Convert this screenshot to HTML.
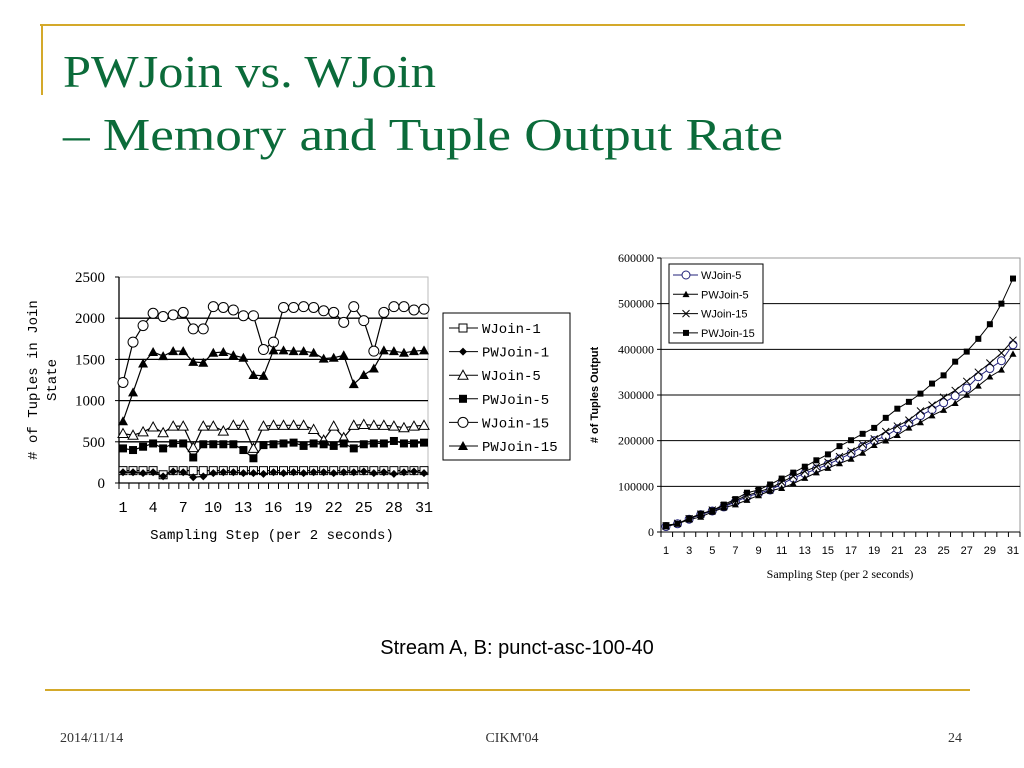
<!DOCTYPE html>
<html><head><meta charset="utf-8"><style>
html,body{margin:0;padding:0;background:#fff;}
svg{display:block}
</style></head><body>
<svg id="s" width="1024" height="768" viewBox="0 0 1024 768" xmlns="http://www.w3.org/2000/svg">
<rect width="1024" height="768" fill="#fff"/>
<line x1="40" y1="25" x2="965" y2="25" stroke="#d4a92a" stroke-width="2"/>
<line x1="42" y1="24" x2="42" y2="95" stroke="#d4a92a" stroke-width="2"/>
<text x="63" y="87" font-family="Liberation Serif, serif" font-size="46" fill="#0b6b3a" textLength="373" lengthAdjust="spacingAndGlyphs">PWJoin vs. WJoin</text>
<text x="63" y="150" font-family="Liberation Serif, serif" font-size="46" fill="#0b6b3a" textLength="720" lengthAdjust="spacingAndGlyphs">– Memory and Tuple Output Rate</text>
<line x1="45" y1="690" x2="970" y2="690" stroke="#d4a92a" stroke-width="2"/>
<text x="60" y="742" font-family="Liberation Serif, serif" font-size="14" fill="#333">2014/11/14</text>
<text x="512" y="742" font-family="Liberation Serif, serif" font-size="14" fill="#333" text-anchor="middle">CIKM'04</text>
<text x="962" y="742" font-family="Liberation Serif, serif" font-size="14" fill="#333" text-anchor="end">24</text>
<text x="517" y="654" font-family="Liberation Sans, sans-serif" font-size="20" fill="#000" text-anchor="middle">Stream A, B: punct-asc-100-40</text>
<g id="L"></g>
<g id="R"></g>
</svg>
<script>
var NS="http://www.w3.org/2000/svg";
function el(p,t,a,txt){var e=document.createElementNS(NS,t);for(var k in a)e.setAttribute(k,a[k]);if(txt!=null)e.textContent=txt;p.appendChild(e);return e;}
function mark(g,type,x,y,s){
 if(type=="sq")el(g,"rect",{x:x-s,y:y-s,width:2*s,height:2*s,fill:"#fff",stroke:"#000","stroke-width":1});
 if(type=="fsq")el(g,"rect",{x:x-s,y:y-s,width:2*s,height:2*s,fill:"#000"});
 if(type=="dia")el(g,"polygon",{points:(x)+","+(y-s)+" "+(x+s)+","+y+" "+x+","+(y+s)+" "+(x-s)+","+y,fill:"#000"});
 if(type=="tri")el(g,"polygon",{points:x+","+(y-s)+" "+(x+s)+","+(y+s*0.8)+" "+(x-s)+","+(y+s*0.8),fill:"#fff",stroke:"#000","stroke-width":1});
 if(type=="ftri")el(g,"polygon",{points:x+","+(y-s)+" "+(x+s)+","+(y+s*0.8)+" "+(x-s)+","+(y+s*0.8),fill:"#000"});
 if(type=="circ")el(g,"circle",{cx:x,cy:y,r:s,fill:"#fff",stroke:"#000","stroke-width":1});
 if(type=="bcirc")el(g,"circle",{cx:x,cy:y,r:s,fill:"#fff",stroke:"#22227a","stroke-width":1});
 if(type=="x"){el(g,"line",{x1:x-s,y1:y-s,x2:x+s,y2:y+s,stroke:"#000"});el(g,"line",{x1:x-s,y1:y+s,x2:x+s,y2:y-s,stroke:"#000"});}
}
// LEFT
var L=document.getElementById("L");
var lx0=119,lx1=428,ly0=483,ly1=277;
function LX(i){return 123+(i-1)*(424-123)/30;}
function LY(v){return ly0-(v/2500)*(ly0-ly1);}
el(L,"rect",{x:lx0,y:ly1,width:lx1-lx0,height:ly0-ly1,fill:"#fff",stroke:"#bbb"});
for(var v=500;v<=2000;v+=500)el(L,"line",{x1:lx0,y1:LY(v),x2:lx1,y2:LY(v),stroke:"#000","stroke-width":1.3});
el(L,"line",{x1:lx0,y1:ly1,x2:lx0,y2:ly0,stroke:"#000","stroke-width":1.3});
el(L,"line",{x1:lx0,y1:ly0,x2:lx1,y2:ly0,stroke:"#000","stroke-width":1.3});
for(var v=0;v<=2500;v+=500){el(L,"line",{x1:lx0-4,y1:LY(v),x2:lx0,y2:LY(v),stroke:"#000"});el(L,"text",{x:lx0-14,y:LY(v)+5,"font-family":"Liberation Serif, serif","font-size":15,"text-anchor":"end"},v);}
for(var i=0;i<=31;i++){var xx=lx0+i*(lx1-lx0)/31;el(L,"line",{x1:xx,y1:ly0,x2:xx,y2:ly0+6,stroke:"#000"});}
for(var i=1;i<=31;i+=3)el(L,"text",{x:LX(i),y:512,"font-family":"Liberation Mono, monospace","font-size":15,"text-anchor":"middle"},i);
el(L,"text",{x:272,y:539,"font-family":"Liberation Mono, monospace","font-size":14,"text-anchor":"middle"},"Sampling Step (per 2 seconds)");
el(L,"text",{transform:"translate(37,380) rotate(-90)","font-family":"Liberation Mono, monospace","font-size":14,"text-anchor":"middle"},"# of Tuples in Join");
el(L,"text",{transform:"translate(56,380) rotate(-90)","font-family":"Liberation Mono, monospace","font-size":14,"text-anchor":"middle"},"State");
var LD=[
["WJoin-1","sq",[150,150,150,150,100,150,150,150,150,150,150,150,150,150,150,150,150,150,150,150,150,150,150,150,150,150,150,150,150,150,150]],
["PWJoin-1","dia",[130,130,120,130,80,140,130,70,80,120,130,130,120,120,110,130,120,130,120,130,130,120,130,130,140,120,130,110,130,140,120]],
["WJoin-5","tri",[600,580,620,680,610,690,690,430,690,690,630,700,700,420,690,700,700,700,700,650,520,690,550,700,710,700,700,690,670,690,700]],
["PWJoin-5","fsq",[420,400,440,480,420,480,480,310,470,470,470,470,400,300,460,470,480,490,450,480,470,450,480,420,470,480,480,510,480,480,490]],
["WJoin-15","circ",[1220,1710,1910,2060,2020,2040,2070,1870,1870,2140,2130,2100,2030,2030,1620,1710,2130,2130,2140,2130,2090,2070,1950,2140,1970,1600,2070,2140,2140,2100,2110]],
["PWJoin-15","ftri",[750,1100,1450,1590,1540,1600,1600,1470,1460,1580,1590,1550,1520,1310,1300,1610,1610,1600,1600,1580,1510,1520,1550,1200,1310,1390,1610,1600,1580,1600,1610]]];
var szL={sq:4,dia:4,tri:5,fsq:4,circ:5,ftri:5};
LD.forEach(function(s){var pts=s[2].map(function(v,i){return LX(i+1)+","+LY(v)}).join(" ");
 el(L,"polyline",{points:pts,fill:"none",stroke:"#000","stroke-width":1.2});
 s[2].forEach(function(v,i){mark(L,s[1],LX(i+1),LY(v),szL[s[1]]);});});
el(L,"rect",{x:443,y:313,width:127,height:147,fill:"#fff",stroke:"#000"});
LD.forEach(function(s,k){var y=328+k*23.6;el(L,"line",{x1:449,y1:y,x2:478,y2:y,stroke:"#000"});mark(L,s[1],463,y,szL[s[1]]);
 el(L,"text",{x:482,y:y+5,"font-family":"Liberation Mono, monospace","font-size":14},s[0]);});
// RIGHT
var R=document.getElementById("R");
var rx0=661,rx1=1020,ry0=532,ry1=258;
function RX(i){return 666+(i-1)*(1013-666)/30;}
function RY(v){return ry0-(v/600000)*(ry0-ry1);}
el(R,"rect",{x:rx0,y:ry1,width:rx1-rx0,height:ry0-ry1,fill:"#fff",stroke:"#999"});
for(var v=100000;v<=500000;v+=100000)el(R,"line",{x1:rx0,y1:RY(v),x2:rx1,y2:RY(v),stroke:"#000"});
el(R,"line",{x1:rx0,y1:ry1,x2:rx0,y2:ry0,stroke:"#000"});
el(R,"line",{x1:rx0,y1:ry0,x2:rx1,y2:ry0,stroke:"#000"});
for(var v=0;v<=600000;v+=100000){el(R,"line",{x1:rx0-4,y1:RY(v),x2:rx0,y2:RY(v),stroke:"#000"});el(R,"text",{x:rx0-7,y:RY(v)+4,"font-family":"Liberation Serif, serif","font-size":12,"text-anchor":"end"},v);}
for(var i=0;i<=31;i++){var xx=rx0+i*(rx1-rx0)/31;el(R,"line",{x1:xx,y1:ry0,x2:xx,y2:ry0+5,stroke:"#000"});}
for(var i=1;i<=31;i+=2)el(R,"text",{x:RX(i),y:554,"font-family":"Liberation Sans, sans-serif","font-size":11,"text-anchor":"middle"},i);
el(R,"text",{x:840,y:578,"font-family":"Liberation Serif, serif","font-size":12,"text-anchor":"middle"},"Sampling Step (per 2 seconds)");
el(R,"text",{transform:"translate(598,395) rotate(-90)","font-family":"Liberation Sans, sans-serif","font-size":11,"font-weight":"bold","text-anchor":"middle"},"# of Tuples Output");
var K=1000;
var RD=[
["WJoin-5","bcirc","#22227a",[12,18,28,38,46,55,66,77,85,92,105,118,128,138,148,160,172,187,200,210,226,238,255,268,283,298,315,340,358,375,410]],
["PWJoin-5","ftri","#000",[12,18,27,33,44,53,60,70,80,90,96,106,118,130,140,150,160,173,190,200,212,228,240,255,267,282,300,320,340,355,390]],
["WJoin-15","x","#000",[13,19,29,39,48,57,69,80,88,96,109,122,133,143,153,165,177,192,204,220,232,245,265,278,295,310,330,350,370,392,420]],
["PWJoin-15","fsq","#000",[15,18,30,40,47,60,72,86,92,104,117,130,143,157,170,188,201,215,228,250,270,285,303,325,343,373,395,423,455,500,555]]];
var szR={bcirc:4,ftri:3.5,x:3.5,fsq:3};
RD.forEach(function(s){var pts=s[3].map(function(v,i){return RX(i+1)+","+RY(v*K)}).join(" ");
 el(R,"polyline",{points:pts,fill:"none",stroke:s[2],"stroke-width":1});
 s[3].forEach(function(v,i){mark(R,s[1],RX(i+1),RY(v*K),szR[s[1]]);});});
el(R,"rect",{x:669,y:264,width:94,height:79,fill:"#fff",stroke:"#000"});
RD.forEach(function(s,k){var y=275+k*19.3;el(R,"line",{x1:673,y1:y,x2:698,y2:y,stroke:s[2]});mark(R,s[1],686,y,szR[s[1]]);
 el(R,"text",{x:701,y:y+4,"font-family":"Liberation Sans, sans-serif","font-size":11},s[0]);});
</script>
</body></html>
